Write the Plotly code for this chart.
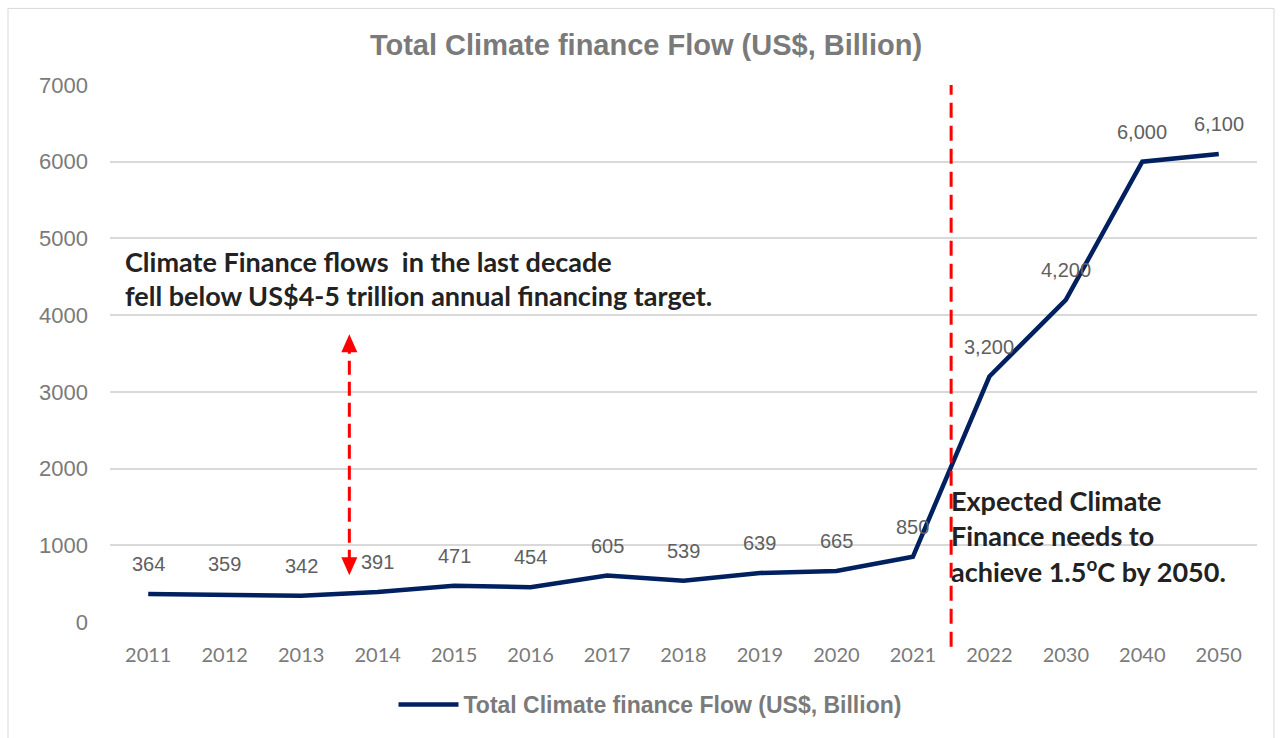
import plotly.graph_objects as go

# Annual climate finance flows and projected needs (US$, billion)
years = ["2011", "2012", "2013", "2014", "2015", "2016", "2017", "2018",
         "2019", "2020", "2021", "2022", "2030", "2040", "2050"]
flows = [364, 359, 342, 391, 471, 454, 605, 539, 639, 665, 850,
         3200, 4200, 6000, 6100]

y_ticks = [0, 1000, 2000, 3000, 4000, 5000, 6000, 7000]
series_name = "Total Climate finance Flow (US$, Billion)"

note_history = ["Climate Finance flows\u00a0 in the last decade",
                "fell below US$4-5 trillion annual financing target."]
note_future = ["Expected Climate", "Finance needs to",
               "achieve 1.5<sup>o</sup>C by 2050."]

# pixel geometry of the plotting area
W, H = 1282, 738
L, R, T, B = 110, 25, 85, 113
pw, ph = W - L - R, H - T - B


def px_x(x):
    return (x - L) / pw


def px_y(y):
    return (H - B - y) / ph


NAVY = "#002060"
GRAY = "#7a7a7a"
LABEL_GRAY = "#606060"
RED = "#ff0000"
TEXT_DARK = "#222222"

fig = go.Figure()
fig.add_trace(go.Scatter(
    x=years, y=flows, mode="lines", name=series_name,
    line=dict(color=NAVY, width=4.5),
    hoverinfo="x+y",
))

annotations = []
# value labels above each point (category axis: position by category index)
for i, v in enumerate(flows):
    annotations.append(dict(
        x=i, y=v, xref="x", yref="y", text=f"{v:,}", showarrow=False,
        yshift=30, font=dict(family="Arial, Liberation Sans", size=20, color=LABEL_GRAY),
    ))

# explanatory notes
for i, line in enumerate(note_history):
    annotations.append(dict(
        x=px_x(123), y=px_y(262 + 35 * i), xref="paper", yref="paper",
        text=line, showarrow=False, xanchor="left", yanchor="middle",
        font=dict(family="Lato", size=27, color=TEXT_DARK, weight="bold"),
    ))
for i, line in enumerate(note_future):
    annotations.append(dict(
        x=10.5, y=px_y(503 + 35 * i), xref="x", yref="paper",
        text=line, showarrow=False, xanchor="left", yanchor="middle", xshift=-2,
        font=dict(family="Lato", size=27, color=TEXT_DARK, weight="bold"),
    ))

# double-headed gap arrow
arrow_x = 2.63
arrow_top, arrow_bottom = 3750, 610

shapes = [
    # outer chart frame
    dict(type="rect", xref="paper", yref="paper",
         x0=px_x(8), x1=px_x(1274), y0=px_y(760), y1=px_y(8),
         line=dict(color="#d9d9d9", width=1), fillcolor="rgba(0,0,0,0)", layer="below"),
    # divider between historic and projected values
    dict(type="line", xref="x", yref="paper", x0=10.5, x1=10.5,
         y0=px_y(650), y1=1.0, line=dict(color=RED, width=3, dash="15px,8px")),
    # dashed shaft of the gap arrow
    dict(type="line", xref="x", yref="y", x0=arrow_x, x1=arrow_x,
         y0=arrow_bottom + 150, y1=arrow_top - 150,
         line=dict(color=RED, width=3, dash="14px,7px")),
    # arrow heads (pixel-sized triangles anchored at the tips)
    dict(type="path", xref="x", yref="y", xsizemode="pixel", ysizemode="pixel",
         xanchor=arrow_x, yanchor=arrow_top, path="M0,0 L-8,-18 L8,-18 Z",
         fillcolor=RED, line=dict(color=RED, width=0)),
    dict(type="path", xref="x", yref="y", xsizemode="pixel", ysizemode="pixel",
         xanchor=arrow_x, yanchor=arrow_bottom, path="M0,0 L-8,18 L8,18 Z",
         fillcolor=RED, line=dict(color=RED, width=0)),
]

fig.update_layout(
    width=W, height=H,
    margin=dict(l=L, r=R, t=T, b=B, pad=0),
    paper_bgcolor="white", plot_bgcolor="white",
    title=dict(text=f"<b>{series_name}</b>", x=646 / W, xanchor="center",
               y=1 - 45 / H, yanchor="middle",
               font=dict(family="Arial, Liberation Sans", size=29, color=GRAY)),
    xaxis=dict(type="category", categoryorder="array", categoryarray=years,
               range=[-0.5, len(years) - 0.5], showgrid=False, showline=False,
               zeroline=False, ticks="", ticklabelstandoff=19,
               tickfont=dict(family="Lato", size=20, color=GRAY)),
    yaxis=dict(range=[0, 7000], tickvals=y_ticks, showgrid=True,
               gridcolor="#d9d9d9", gridwidth=1.5, zeroline=False, showline=False,
               ticks="", ticklabelstandoff=21,
               tickfont=dict(family="Arial, Liberation Sans", size=22, color=GRAY)),
    showlegend=True,
    legend=dict(orientation="h", x=px_x(650), xanchor="center",
                y=px_y(708), yanchor="middle", itemwidth=60,
                font=dict(family="Arial, Liberation Sans", size=23, color=GRAY,
                          weight="bold")),
    annotations=annotations,
    shapes=shapes,
)

fig.write_html("out.html")
